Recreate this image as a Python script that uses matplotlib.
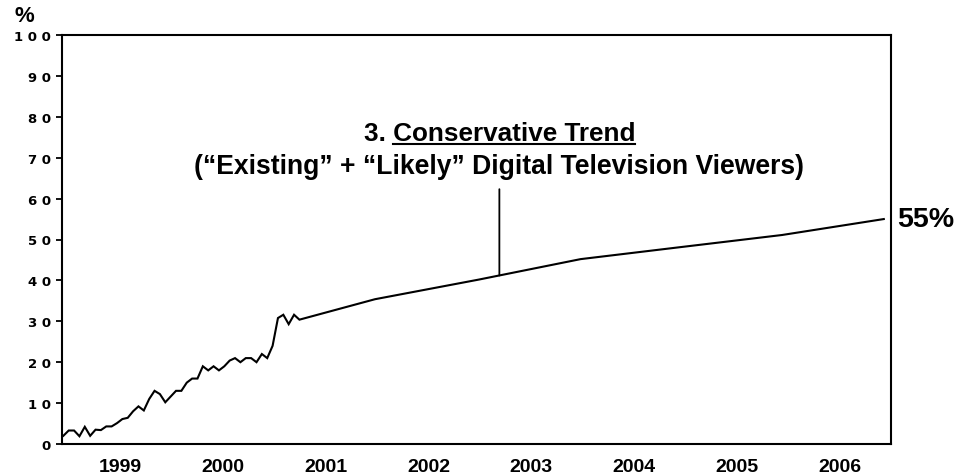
"""Conservative trend of digital television viewers, 1999-2006."""
import numpy as np
import matplotlib
matplotlib.use("Agg")
import matplotlib.pyplot as plt

plt.rcParams["font.family"] = ["Liberation Sans", "DejaVu Sans"]

# measured series (fractional year, %)
EARLY_START = 1998.948
EARLY_STEP = 0.0522
EARLY_VALUES = [2.0, 3.3, 3.3, 1.9, 4.2, 2.0, 3.5, 3.4, 4.3, 4.3,
                5.1, 6.1, 6.4, 8.0, 9.2, 8.2, 11.0, 13.0, 12.2, 10.2,
                11.6, 13.0, 13.0, 15.0, 16.0, 16.0, 19.0, 18.0, 19.0, 18.0,
                19.0, 20.4, 21.0, 20.0, 21.0, 21.0, 20.0, 22.0, 21.0, 24.0,
                30.8, 31.6, 29.3, 31.6, 30.4]
TREND_YEARS = [2001.98, 2002.99, 2003.98, 2004.94, 2005.94, 2006.93]
TREND_VALUES = [35.4, 40.2, 45.2, 48.1, 51.1, 55.0]
YEARS = [1999, 2000, 2001, 2002, 2003, 2004, 2005, 2006]
Y_TICKS = list(range(0, 101, 10))
POINTER_YEAR = 2003.19

early_x = EARLY_START + EARLY_STEP * np.arange(len(EARLY_VALUES))
xs = np.concatenate([early_x, TREND_YEARS])
ys = np.concatenate([EARLY_VALUES, TREND_VALUES])

fig = plt.figure(figsize=(9.62, 4.77), dpi=100)
ax = fig.add_axes([62 / 962, 32 / 477, 829 / 962, 409 / 477])
ax.plot(xs, ys, color="black", lw=1.5, solid_joinstyle="miter")

ax.set_xlim(1998.935, 2007.0)
ax.set_ylim(0, 100)
for s in ax.spines.values():
    s.set_linewidth(1.5)

ax.set_yticks(Y_TICKS)
ax.set_yticklabels([" ".join(str(v)) for v in Y_TICKS],
                   fontfamily="DejaVu Sans", fontweight="bold", fontsize=9.5)
ax.tick_params(axis="y", length=4, width=1.3, pad=4)
ax.set_xticks([y + 0.5 for y in YEARS])
ax.set_xticklabels([str(y) for y in YEARS], fontweight="bold", fontsize=14)
ax.tick_params(axis="x", length=0, pad=10)

fig.text(24 / 962, 1 - 16 / 477, "%", ha="center", va="center",
         fontsize=16, fontweight="bold")

# end label
ax.text(1.007, TREND_VALUES[-1], "55%", transform=ax.get_yaxis_transform(),
        ha="left", va="center", fontsize=20.5, fontweight="bold")

# annotation
t1 = ax.text(POINTER_YEAR, 76.0, "3. Conservative Trend", ha="center",
             va="center", fontsize=18.8, fontweight="bold")
ax.text(POINTER_YEAR, 67.9,
        "(\u201cExisting\u201d + \u201cLikely\u201d Digital Television Viewers)",
        ha="center", va="center", fontsize=19.1, fontweight="bold")
ax.annotate("", xy=(POINTER_YEAR, np.interp(POINTER_YEAR, xs, ys)),
            xytext=(POINTER_YEAR, 62.3),
            arrowprops=dict(arrowstyle="-", lw=1.3, shrinkA=0, shrinkB=0))

# underline "Conservative Trend"
fig.canvas.draw()
r = fig.canvas.get_renderer()
bb = t1.get_window_extent(r)
probe = fig.text(0, 0, "Conservative Trend", fontsize=18.8, fontweight="bold")
w = probe.get_window_extent(r).width
probe.remove()
inv = fig.transFigure.inverted()
(x0, y0), (x1, _) = inv.transform([(bb.x1 - w, bb.y0 + 1), (bb.x1, bb.y0 + 1)])
fig.add_artist(plt.Line2D([x0, x1], [y0, y0], color="black", lw=1.5))

fig.savefig("out.png", dpi=100)
